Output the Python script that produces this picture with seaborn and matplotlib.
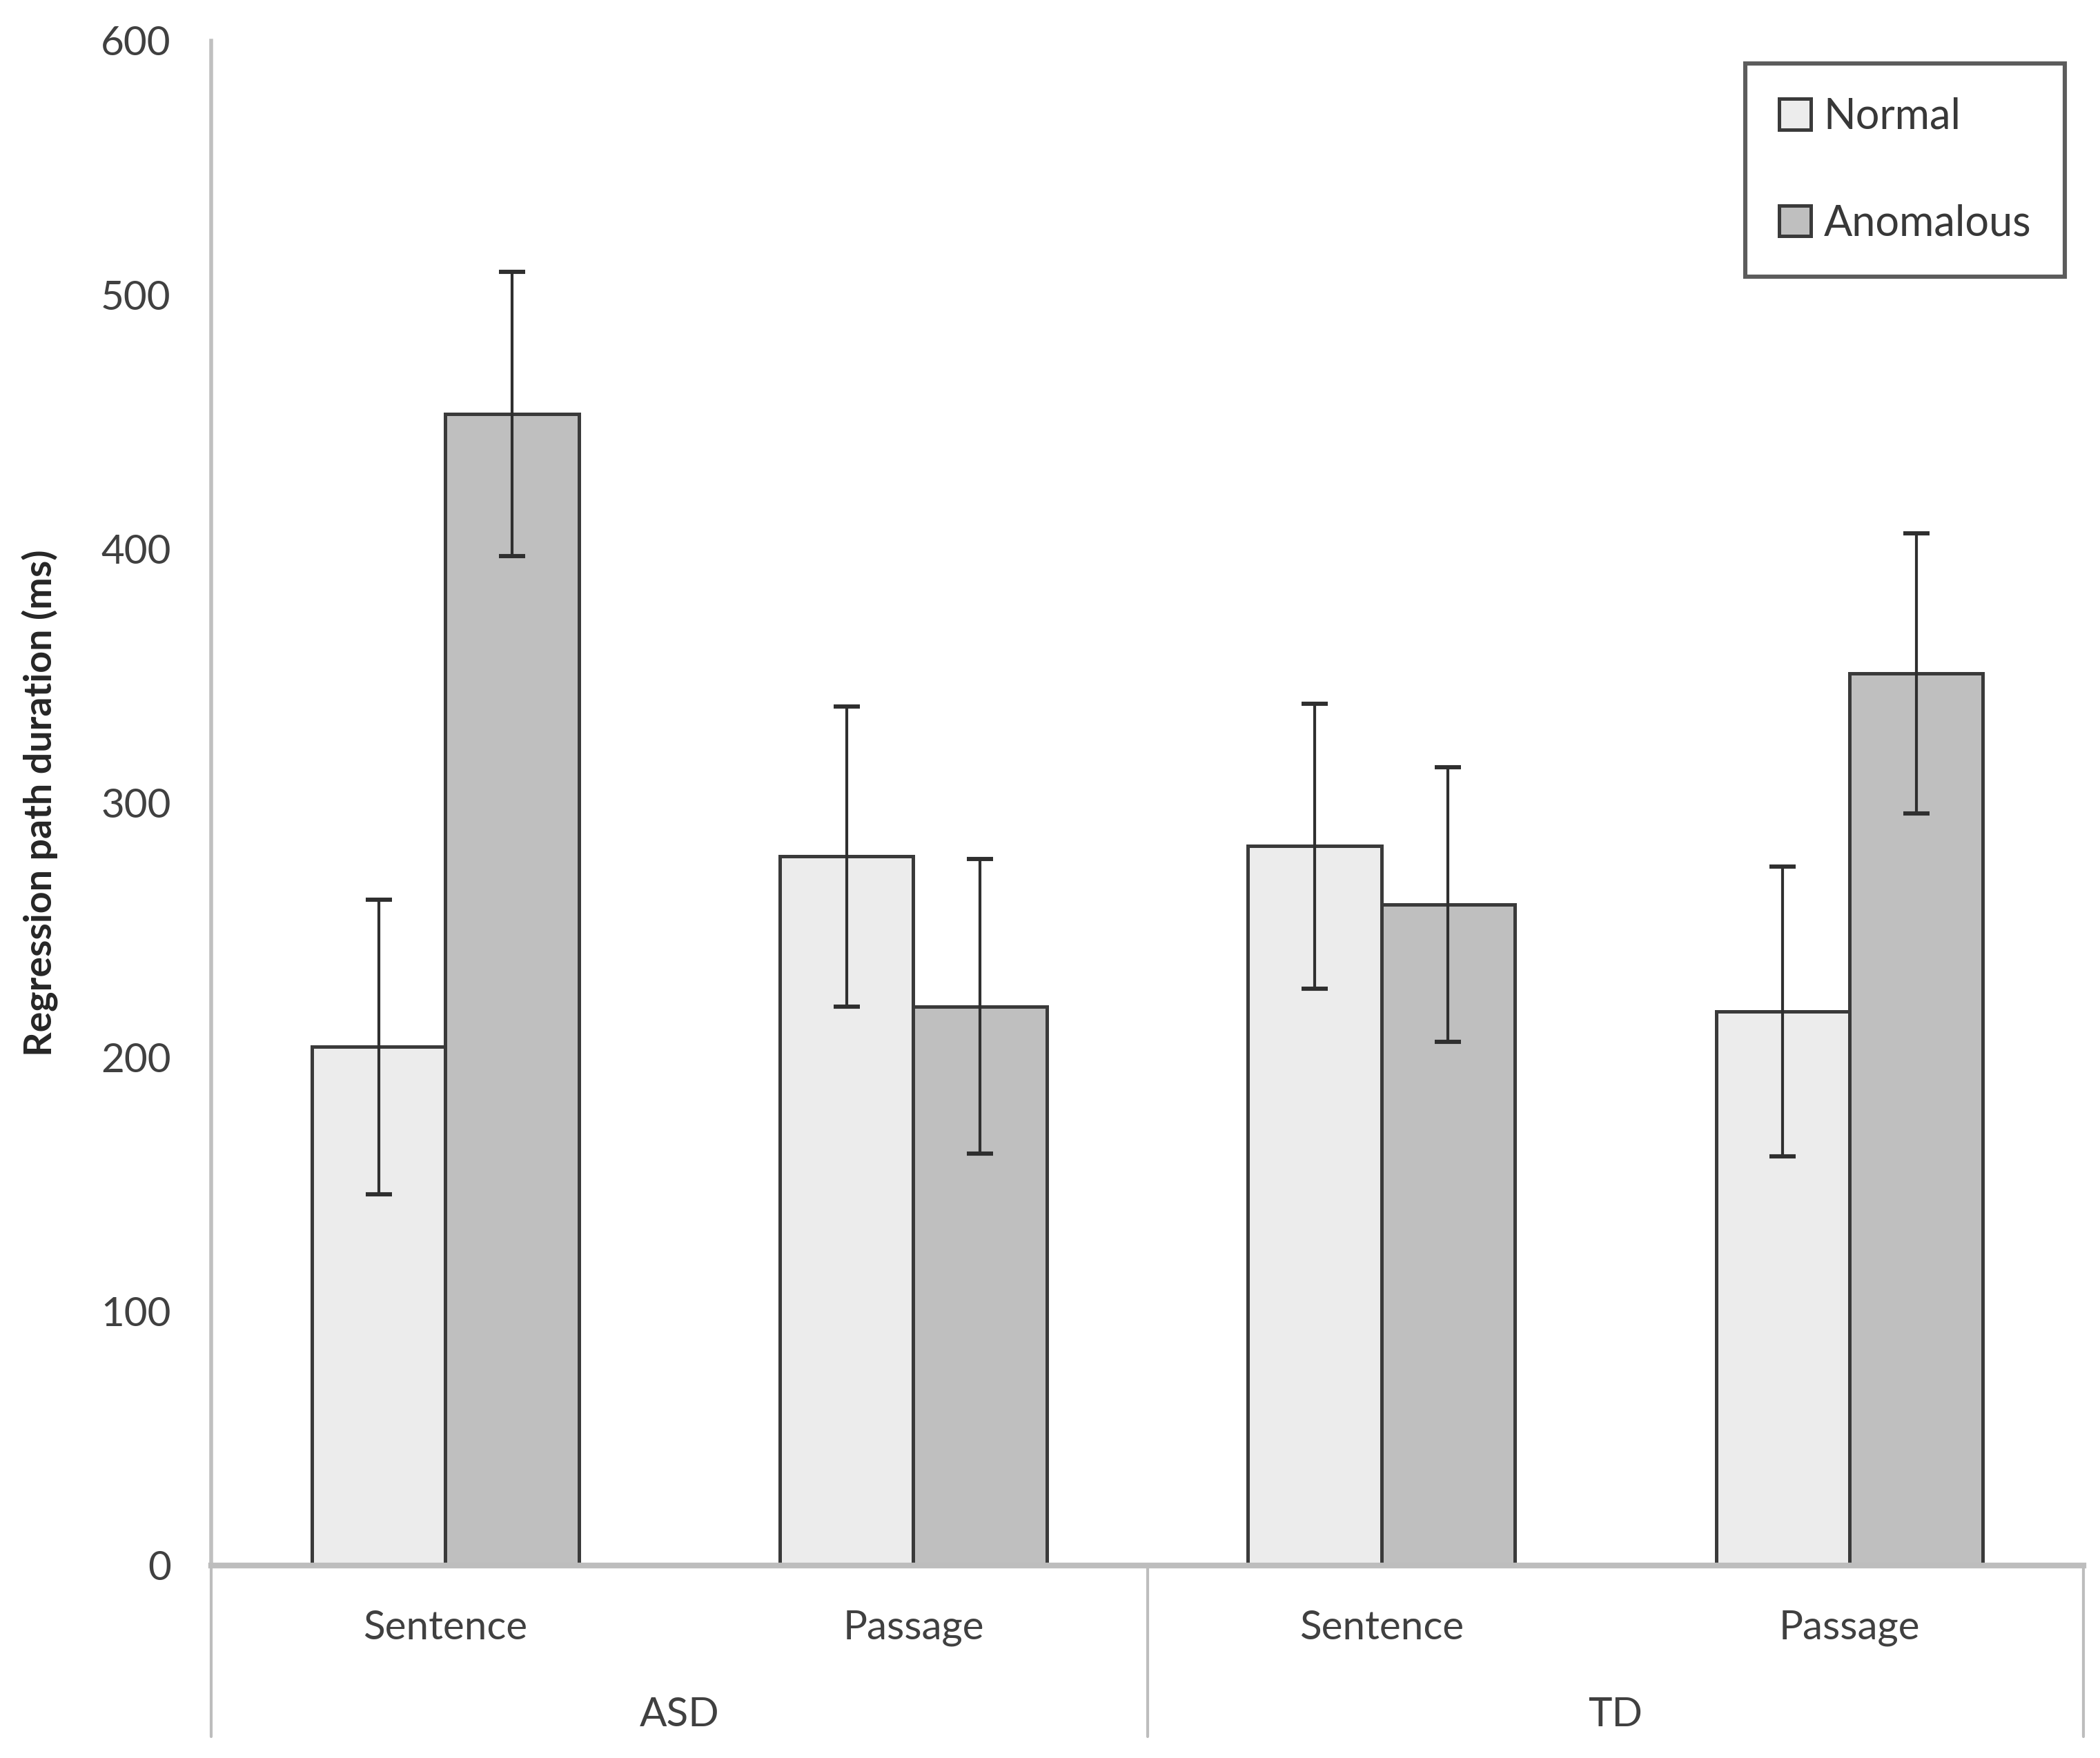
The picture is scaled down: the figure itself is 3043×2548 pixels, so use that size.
import pandas as pd
import matplotlib.pyplot as plt
import matplotlib.transforms as mtransforms
import seaborn as sns

sns.set_style("white")
plt.rcParams['font.family'] = ['Lato', 'DejaVu Sans']

# data
groups = ["ASD", "ASD", "TD", "TD"]
tasks = ["Sentence", "Passage", "Sentence", "Passage"]
normal = [204, 279, 283, 218]
anomalous = [453, 220, 260, 351]
normal_err = [58, 59, 56, 57]
anomalous_err = [56, 58, 54, 55]
conditions = ["Normal", "Anomalous"]
group_names = ["ASD", "TD"]

cats = [f"{g}-{t}" for g, t in zip(groups, tasks)]
df = pd.DataFrame({
    "cat": cats * 2,
    "condition": ["Normal"] * 4 + ["Anomalous"] * 4,
    "value": normal + anomalous,
    "err": normal_err + anomalous_err,
})

fig = plt.figure(figsize=(15.215, 12.74), dpi=200)
ax = fig.add_axes([0.1006, 0.1095, 0.8915, 0.8675])

sns.barplot(data=df, x="cat", y="value", hue="condition", order=cats,
            hue_order=conditions, palette=["#ececec", "#bfbfbf"],
            width=0.57, gap=0, edgecolor="#3a3a3a", linewidth=1.8,
            errorbar=None, ax=ax)

# error bars at the bar centres
for cont, cond in zip(ax.containers, conditions):
    sub = df[df["condition"] == cond].set_index("cat").loc[cats]
    xs = [p.get_x() + p.get_width() / 2 for p in cont.patches]
    ax.errorbar(xs, sub["value"], yerr=sub["err"], fmt="none",
                ecolor="#2f2f2f", elinewidth=1.5, capsize=7, capthick=2.2)

ax.set_xlim(-0.5, 3.5)
ax.set_ylim(0, 600)
ax.set_yticks(range(0, 601, 100))
ax.tick_params(axis="y", direction="out", length=7, width=1.5,
               color="#a0a0a0", labelsize=21, labelcolor="#404040", pad=14)
ax.tick_params(axis="x", length=0, labelbottom=False)
ax.set_xlabel("")
ax.set_ylabel("Regression path duration (ms)", fontsize=20, fontweight="bold",
              labelpad=22)
for s in ["top", "right"]:
    ax.spines[s].set_visible(False)
ax.spines["left"].set_color("#c0c0c0")
ax.spines["left"].set_linewidth(2)
ax.spines["bottom"].set_color("#bdbdbd")
ax.spines["bottom"].set_linewidth(3)

# two-level category axis below the plot
trans = mtransforms.blended_transform_factory(ax.transData, ax.transAxes)
for i, t in enumerate(tasks):
    ax.text(i, -0.041, t, transform=trans, ha="center", va="center",
            fontsize=21, color="#404040")
for j, g in enumerate(group_names):
    ax.text(2 * j + 0.5, -0.098, g, transform=trans, ha="center",
            va="center", fontsize=21, color="#404040")
for xv in [-0.5, 1.5, 3.5]:
    ax.plot([xv, xv], [0, -0.112], transform=trans, color="#bdbdbd",
            lw=1.5, clip_on=False)

leg = ax.legend(loc="upper right", bbox_to_anchor=(0.99, 0.985),
                fontsize=22, frameon=True, fancybox=False,
                handlelength=0.75, handleheight=0.75, handletextpad=0.3,
                labelspacing=1.6, borderpad=0.8, borderaxespad=0)
leg.get_frame().set_edgecolor("#333333")
leg.get_frame().set_linewidth(2.2)
for txt in leg.get_texts():
    txt.set_color("#383838")

fig.savefig("out.png", dpi=200, facecolor="white")
